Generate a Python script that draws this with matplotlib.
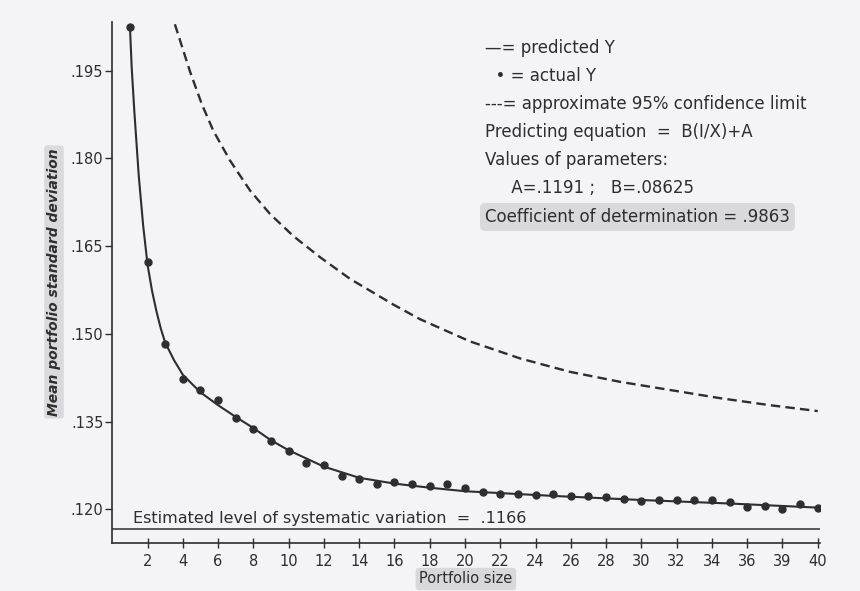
import matplotlib
matplotlib.use("Agg")
import matplotlib.pyplot as plt

# ---- data ----
portfolio_size = list(range(1, 41))
actual_y = [0.2025, 0.1622, 0.1483, 0.1422, 0.1404, 0.1387, 0.1357, 0.1337, 0.1317, 0.1300,
            0.1280, 0.1275, 0.1257, 0.1252, 0.1243, 0.1246, 0.1244, 0.1240, 0.1243, 0.1237,
            0.1230, 0.1227, 0.1226, 0.1224, 0.1226, 0.1223, 0.1223, 0.1221, 0.1217, 0.1215,
            0.1216, 0.1216, 0.1216, 0.1216, 0.1212, 0.1204, 0.1206, 0.1201, 0.1210, 0.1202]

pred_x = [1, 1.1, 1.25, 1.5, 1.75, 2, 2.25, 2.5, 2.75, 3, 3.5, 4, 5, 6, 7, 8, 9, 10, 12, 14,
          16, 18, 20, 25, 30, 35, 40]
pred_y = [0.2025, 0.1955, 0.1880, 0.1770, 0.1685, 0.1618, 0.1574, 0.1539, 0.1509, 0.1485,
          0.1455, 0.1430, 0.1400, 0.1378, 0.1358, 0.1339, 0.1318, 0.1301, 0.1273, 0.1254,
          0.1244, 0.1237, 0.1231, 0.1223, 0.1216, 0.1210, 0.1203]

conf_x = [3.3, 3.56, 4.41, 5.07, 5.73, 6.68, 7.81, 8.94, 10.27, 11.78, 13.48, 15.94, 17.45,
          20.29, 23.12, 25.96, 28.79, 31.63, 34.47, 37.3, 40.0]
conf_y = [0.2053, 0.2028, 0.1948, 0.1893, 0.1847, 0.1796, 0.1745, 0.1705, 0.1667, 0.1631,
          0.1594, 0.1550, 0.1525, 0.1487, 0.1458, 0.1435, 0.1418, 0.1404, 0.1390, 0.1378, 0.1368]

systematic_level = 0.1166

x_ticks = list(range(2, 41, 2))
x_tick_labels = ["2", "4", "6", "8", "10", "12", "14", "16", "18", "20", "22", "24", "26",
                 "28", "30", "32", "34", "36", "39", "40"]
y_ticks = [0.120, 0.135, 0.150, 0.165, 0.180, 0.195]
y_tick_labels = [".120", ".135", ".150", ".165", ".180", ".195"]

legend_lines = ["\u2014= predicted Y",
                "  \u2022 = actual Y",
                "---= approximate 95% confidence limit",
                "Predicting equation  =  B(I/X)+A",
                "Values of parameters:",
                "     A=.1191 ;   B=.08625",
                "Coefficient of determination = .9863"]

# ---- drawing ----
ink = "#2e2e2e"
paper = "#f3f3f8"
W, H = 860, 591
fig = plt.figure(figsize=(W / 100, H / 100), dpi=100, facecolor=paper)
ax = fig.add_axes([112.3 / W, 1 - 543.3 / H, (819.5 - 112.3) / W, (543.3 - 22) / H])
ax.set_facecolor(paper)

ax.plot(pred_x, pred_y, color=ink, lw=1.5, solid_capstyle="round", solid_joinstyle="round", zorder=3)
ax.plot(portfolio_size, actual_y, linestyle="none", marker="o", ms=5, color=ink, zorder=4)
ax.plot(conf_x, conf_y, color=ink, lw=1.7, dashes=(4, 2.2), zorder=3)
ax.axhline(systematic_level, xmin=0, xmax=1, color=ink, lw=1.1)

ax.set_xlim(0, 40.1)
ax.set_ylim(0.1142, 0.2033)

for s in ["top", "right"]:
    ax.spines[s].set_visible(False)
for s in ["left", "bottom"]:
    ax.spines[s].set_color(ink)
    ax.spines[s].set_linewidth(1.2)

ax.set_xticks(x_ticks)
ax.set_xticklabels(x_tick_labels)
ax.set_yticks(y_ticks)
ax.set_yticklabels(y_tick_labels)
ax.tick_params(axis="both", colors=ink, labelcolor=ink, labelsize=10.5, length=5, width=1)
ax.tick_params(axis="y", pad=1.5)
ax.tick_params(axis="x", direction="inout", length=7, pad=4)

ax.set_xlabel("Portfolio size", fontsize=10.5, color=ink, labelpad=2,
              bbox=dict(boxstyle="round,pad=0.25", fc="#cdcdd0", ec="none", alpha=0.7))
ax.set_ylabel("Mean portfolio standard deviation", fontsize=10, color=ink,
              fontstyle="italic", fontweight="bold",
              bbox=dict(boxstyle="round,pad=0.2", fc="#cacacd", ec="none", alpha=0.6))
ax.yaxis.set_label_coords((61 - 112.3) / (819.5 - 112.3), (543.3 - 282) / (543.3 - 22))

ax.text(1.2, systematic_level + 0.0005, "Estimated level of systematic variation  =  .1166",
        fontsize=11.5, color=ink, va="bottom", ha="left")

row_y = [48, 76, 104, 132, 160, 188, 217]
for i, (txt, yy) in enumerate(zip(legend_lines, row_y)):
    kw = {}
    if i == len(legend_lines) - 1:
        kw["bbox"] = dict(boxstyle="round,pad=0.3", fc="#c8c8cb", ec="none", alpha=0.6)
    fig.text(485 / W, 1 - yy / H, txt, fontsize=12, color=ink, ha="left", va="center", **kw)

fig.savefig("out.png", dpi=100, facecolor=paper)
